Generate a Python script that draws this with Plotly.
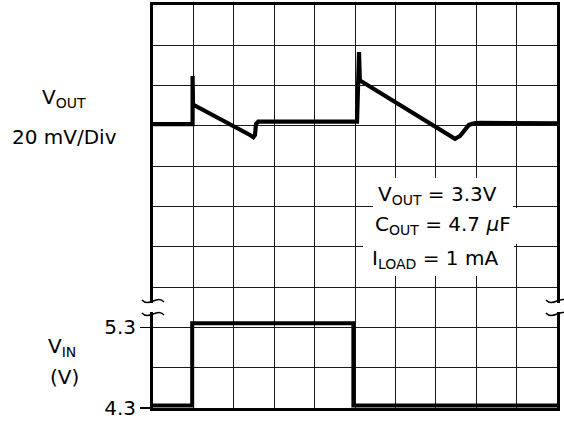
import plotly.graph_objects as go

# ---------------- data ----------------
# time axis in divisions (10 divisions across)
vout_t = [0.0, 0.98, 0.98, 0.99, 2.40, 2.483, 2.525, 2.55, 2.606, 5.05,
          5.10, 5.12, 5.166, 7.31, 7.475, 7.60, 7.72, 7.82, 7.945, 8.09, 10.0]
# VOUT deviation in mV (20 mV/div), 0 mV on the 7th division line
vout_mv = [0.85, 0.85, 24.8, 10.6, -4.5, -5.6, -4.5, 1.0, 2.1, 2.1,
           36.6, 22.5, 22.0, -4.7, -6.4, -5.0, -1.7, 0.5, 1.3, 1.5, 1.3]

vin_t = [0.0, 0.97, 0.97, 4.96, 4.96, 10.0]
vin_v = [4.33, 4.33, 5.35, 5.35, 4.33, 4.33]

vin_ticks = [4.3, 5.3]
vin_ticktext = ["4.3", "5.3"]

FONT = "DejaVu Sans"
FS = 20

# plot-area pixel frame (for decorations)
L, R, T, B = 153, 557, 5, 408
W, H = 564, 423


def px(x):
    return (x - L) / (R - L)


def py(y):
    return (B - y) / (B - T)


fig = go.Figure()

fig.add_trace(go.Scatter(x=vin_t, y=vin_v, mode="lines", yaxis="y",
                         line=dict(color="black", width=4), hoverinfo="skip",
                         showlegend=False))
fig.add_trace(go.Scatter(x=vout_t, y=vout_mv, mode="lines", yaxis="y2",
                         line=dict(color="black", width=4.2), hoverinfo="skip",
                         showlegend=False))

grid_col = "#1a1a1a"

fig.update_layout(
    width=W, height=H,
    margin=dict(l=L, r=W - R, t=T, b=H - B, autoexpand=False),
    paper_bgcolor="white", plot_bgcolor="white",
    font=dict(family=FONT, size=FS, color="black"),
    showlegend=False,
    xaxis=dict(range=[0, 10], dtick=1, tick0=0, showgrid=True, gridcolor=grid_col,
               gridwidth=1, showticklabels=False, ticks="", zeroline=False,
               automargin=False,
               showline=True, linecolor="black", linewidth=3, mirror=True),
    yaxis=dict(range=[4.3, 9.3], tickmode="array", tickvals=vin_ticks,
               ticktext=vin_ticktext, ticks="outside", ticklen=10, tickwidth=1.5,
               tickcolor="black", showgrid=True, gridcolor=grid_col, gridwidth=1,
               minor=dict(tickmode="linear", tick0=4.3, dtick=0.5, showgrid=True,
                          gridcolor=grid_col, gridwidth=1, ticks=""),
               zeroline=False, automargin=False,
               tickfont=dict(family=FONT, size=FS, color="black"),
               showline=True, linecolor="black", linewidth=3, mirror=True),
    yaxis2=dict(range=[-140, 60], overlaying="y", visible=False, automargin=False),
)

shapes = []
# white mask behind the condition text
mask = [(373, 178), (513, 178), (513, 208), (528, 208), (528, 244), (514, 244),
        (514, 276), (363, 276), (363, 212), (373, 212)]
path = "M " + " L ".join(f"{px(a):.5f},{py(b):.5f}" for a, b in mask) + " Z"
shapes.append(dict(type="path", xref="paper", yref="paper", path=path,
                   fillcolor="white", line=dict(width=0), layer="above"))

# axis-break symbols on the left and right borders
for cx in (153, 557):
    shapes.append(dict(type="rect", xref="paper", yref="paper",
                       x0=px(cx - 4), x1=px(cx + 4), y0=py(312), y1=py(303),
                       fillcolor="white", line=dict(width=0), layer="above"))
    for cy in (301, 314):
        p = (f"M {px(cx-11):.5f},{py(cy-1):.5f} C {px(cx-4):.5f},{py(cy+7):.5f} "
             f"{px(cx+4):.5f},{py(cy-7):.5f} {px(cx+11):.5f},{py(cy+1):.5f}")
        shapes.append(dict(type="path", xref="paper", yref="paper", path=p,
                           line=dict(color="black", width=1.5), layer="above"))
fig.update_layout(shapes=shapes)

ann = []


def label(text, x, y, xanchor="center"):
    ann.append(dict(text=text, x=px(x), y=py(y), xref="paper", yref="paper",
                    xanchor=xanchor, yanchor="middle", showarrow=False,
                    font=dict(family=FONT, size=FS, color="black")))


label("V<sub>OUT</sub>", 64, 98)
label("20 mV/Div", 64, 137)
label("V<sub>IN</sub>", 62, 347)
label("(V)", 64, 377)
label("V<sub>OUT</sub> = 3.3V", 376, 195, "left")
label("C<sub>OUT</sub> = 4.7 <i>μ</i>F", 373, 225, "left")
label("I<sub>LOAD</sub> = 1 mA", 370, 259, "left")
fig.update_layout(annotations=ann)

fig.write_html("out.html",
               config={"displayModeBar": False, "staticPlot": True},
               post_script="document.body.style.margin='0';"
                           "document.body.style.overflow='hidden';")
